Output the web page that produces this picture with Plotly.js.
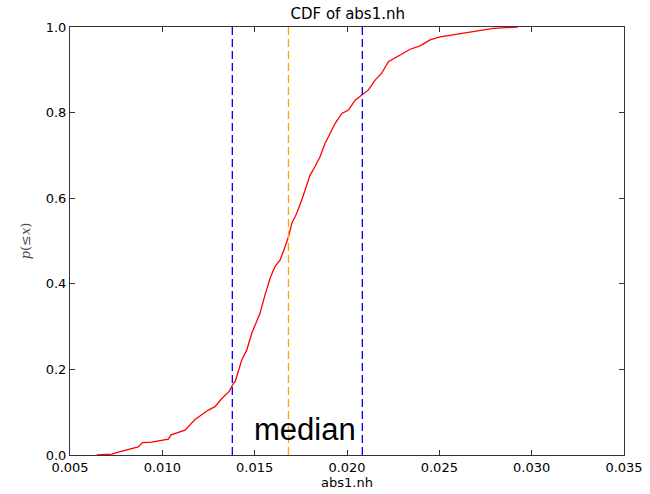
<!DOCTYPE html>
<html>
<head>
<meta charset="utf-8">
<script src="https://cdn.plot.ly/plotly-3.0.1.min.js"></script>
<style>html,body{margin:0;padding:0;background:#fff;}#chart{width:650px;height:494px;}</style>
</head>
<body>
<div id="chart"></div>
<script>
// CDF curve of abs1.nh
var cdfX = [0.00645, 0.00726, 0.00771, 0.00816, 0.00870, 0.00892, 0.00942, 0.01033, 0.01047, 0.01123,
            0.01177, 0.01249, 0.01285, 0.01322, 0.01361, 0.01385, 0.01394, 0.01430, 0.01457, 0.01484,
            0.01506, 0.01529, 0.01556, 0.01587, 0.01610, 0.01638, 0.01665, 0.01683, 0.01701, 0.01728,
            0.01755, 0.01773, 0.01800, 0.01827, 0.01854, 0.01881, 0.01908, 0.01936, 0.01972, 0.02008,
            0.02044, 0.02080, 0.02116, 0.02152, 0.02188, 0.02224, 0.02288, 0.02342, 0.02396, 0.02450,
            0.02504, 0.02612, 0.02712, 0.02793, 0.02925];
var cdfY = [0.000, 0.002, 0.008, 0.013, 0.019, 0.029, 0.030, 0.037, 0.047, 0.058,
            0.083, 0.105, 0.113, 0.132, 0.148, 0.167, 0.171, 0.222, 0.245, 0.284,
            0.308, 0.331, 0.374, 0.417, 0.440, 0.456, 0.487, 0.510, 0.541, 0.565,
            0.596, 0.619, 0.654, 0.674, 0.697, 0.728, 0.752, 0.775, 0.798, 0.806,
            0.829, 0.841, 0.853, 0.876, 0.892, 0.919, 0.935, 0.948, 0.956, 0.970,
            0.977, 0.985, 0.991, 0.997, 1.000];
// reference lines
var lowerQ = 0.01379;
var medianX = 0.01683;
var upperQ = 0.02083;
var xTicks = [0.005, 0.010, 0.015, 0.020, 0.025, 0.030, 0.035];
var yTicks = [0.0, 0.2, 0.4, 0.6, 0.8, 1.0];

var dash = '8px,4px';
var traces = [
  {x: cdfX, y: cdfY, type: 'scatter', mode: 'lines', line: {color: '#ff0000', width: 1.3}, hoverinfo: 'skip'},
  {x: [lowerQ, lowerQ], y: [0, 1], type: 'scatter', mode: 'lines', line: {color: '#0000ff', width: 1.3, dash: dash}},
  {x: [medianX, medianX], y: [0, 1], type: 'scatter', mode: 'lines', line: {color: '#ffa500', width: 1.3, dash: dash}},
  {x: [upperQ, upperQ], y: [0, 1], type: 'scatter', mode: 'lines', line: {color: '#0000ff', width: 1.3, dash: dash}}
];

var axisCommon = {
  showgrid: false, zeroline: false, showline: true, linecolor: '#333', linewidth: 1,
  mirror: 'ticks', ticks: 'inside', ticklen: 5, tickcolor: '#333', tickwidth: 1,
  tickfont: {family: 'DejaVu Sans', size: 13, color: '#000'}
};

var layout = {
  width: 650, height: 494,
  margin: {l: 70, r: 26, t: 27, b: 39},
  paper_bgcolor: '#fff', plot_bgcolor: '#fff',
  showlegend: false,
  title: {text: 'CDF of abs1.nh', font: {family: 'DejaVu Sans', size: 15, color: '#000'}, x: 0.535, xanchor: 'center', y: 0.972, yanchor: 'middle'},
  xaxis: Object.assign({}, axisCommon, {
    range: [0.005, 0.035], tickvals: xTicks, tickformat: '.3f',
    title: {text: 'abs1.nh', font: {family: 'DejaVu Sans', size: 13, color: '#000'}, standoff: 2}
  }),
  yaxis: Object.assign({}, axisCommon, {
    range: [0, 1], tickvals: yTicks, tickformat: '.1f',
    title: {text: '<i>p</i>(≤<i>x</i>)', font: {family: 'DejaVu Serif', size: 13, color: '#444'}, standoff: 12}
  }),
  annotations: [{
    x: 0.01502, y: 0.03, xref: 'x', yref: 'y', xanchor: 'left', yanchor: 'bottom',
    text: 'median', showarrow: false, yshift: -7, xshift: -3,
    font: {family: 'Liberation Sans', size: 31, color: '#000'}
  }]
};

Plotly.newPlot('chart', traces, layout, {displayModeBar: false, staticPlot: true});
</script>
</body>
</html>
